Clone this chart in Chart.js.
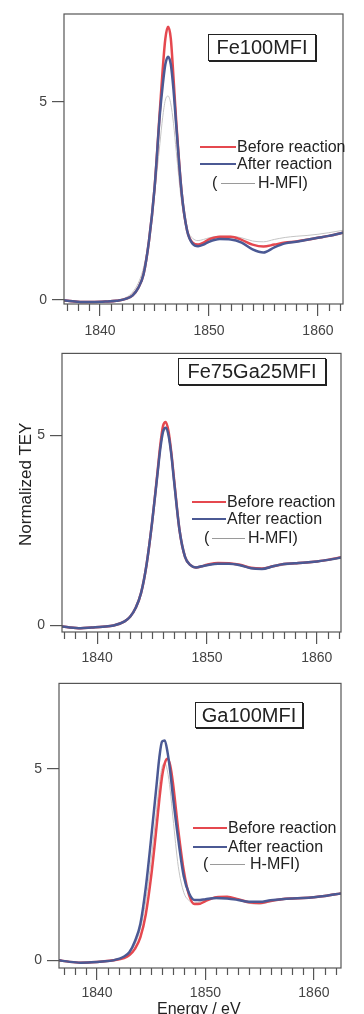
<!DOCTYPE html>
<html>
<head>
<meta charset="utf-8">
<script src="https://cdn.jsdelivr.net/npm/chart.js@4.4.1/dist/chart.umd.min.js"></script>
<style>
  html, body { margin: 0; padding: 0; background: #fff; }
  body { width: 364px; height: 1014px; position: relative; overflow: hidden;
         font-family: "Liberation Sans", Arial, sans-serif; color: #222; }
  .panel { position: absolute; left: 0; width: 364px; }
  .panel canvas { display: block; }
  .tag { position: absolute; border: 1px solid #222; box-shadow: 1px 1px 0 #222;
         font-size: 20px; text-align: center; background: #fff; box-sizing: border-box; }
  .row { position: absolute; height: 20px; line-height: 20px; font-size: 16px; white-space: nowrap; }
  .swatch { position: absolute; height: 2px; }
  .ytitle { position: absolute; font-size: 17px; white-space: nowrap; transform: rotate(-90deg);
            transform-origin: center center; }
  .xtitle { position: absolute; font-size: 16px; white-space: nowrap; }
</style>
</head>
<body>

<div class="panel" style="top:0;height:340px"><canvas id="chart1" width="364" height="340"></canvas></div>
<div class="panel" style="top:340px;height:330px"><canvas id="chart2" width="364" height="330"></canvas></div>
<div class="panel" style="top:670px;height:344px"><canvas id="chart3" width="364" height="344"></canvas></div>

<!-- sample names -->
<div class="tag" style="left:208px;top:34px;width:108px;height:27px;line-height:25px">Fe100MFI</div>
<div class="tag" style="left:178px;top:358px;width:148px;height:27px;line-height:25px">Fe75Ga25MFI</div>
<div class="tag" style="left:195px;top:702px;width:108px;height:26px;line-height:24px">Ga100MFI</div>

<!-- legends -->
<div class="swatch" style="left:200px;top:146px;width:36px;background:#e5484f"></div>
<div class="row" style="left:237px;top:137px">Before reaction</div>
<div class="swatch" style="left:200px;top:163px;width:36px;background:#4b5994"></div>
<div class="row" style="left:237px;top:154px">After reaction</div>
<div class="row" style="left:212px;top:173px">(</div>
<div class="swatch" style="left:221px;top:183px;width:34px;height:1px;background:#9a9a9a"></div>
<div class="row" style="left:258px;top:173px">H-MFI)</div>

<div class="swatch" style="left:192px;top:501px;width:34px;background:#e5484f"></div>
<div class="row" style="left:227px;top:492px">Before reaction</div>
<div class="swatch" style="left:192px;top:518px;width:34px;background:#4b5994"></div>
<div class="row" style="left:227px;top:509px">After reaction</div>
<div class="row" style="left:204px;top:528px">(</div>
<div class="swatch" style="left:212px;top:538px;width:33px;height:1px;background:#9a9a9a"></div>
<div class="row" style="left:248px;top:528px">H-MFI)</div>

<div class="swatch" style="left:193px;top:827px;width:34px;background:#e5484f"></div>
<div class="row" style="left:228px;top:818px">Before reaction</div>
<div class="swatch" style="left:193px;top:846px;width:34px;background:#4b5994"></div>
<div class="row" style="left:228px;top:837px">After reaction</div>
<div class="row" style="left:203px;top:854px">(</div>
<div class="swatch" style="left:210px;top:864px;width:35px;height:1px;background:#9a9a9a"></div>
<div class="row" style="left:250px;top:854px">H-MFI)</div>

<!-- axis titles -->
<div class="ytitle" style="left:-34px;top:476px;width:120px;height:20px;line-height:20px;text-align:center">Normalized TEY</div>
<div class="xtitle" style="left:157px;top:1000px;line-height:18px">Energy / eV</div>

<script>
"use strict"

// photon energy (eV), shared by every spectrum
const energy = [1836.5, 1837.5, 1838.5, 1839.5, 1840.5, 1841.5, 1842.5, 1843, 1843.5, 1844,
  1844.5, 1845, 1845.5, 1845.75, 1846, 1846.25, 1846.5, 1846.75, 1847, 1847.5,
  1848, 1848.5, 1849, 1849.5, 1850, 1851, 1852, 1853, 1854, 1855,
  1856, 1857, 1858, 1859, 1860, 1861, 1862.5];

// Fe100MFI
const fe100Before = [0.0, -0.03, -0.05, -0.05, -0.04, -0.02, 0.04, 0.12, 0.3, 0.65,
  1.5, 2.8, 4.8, 5.8, 6.6, 6.9, 6.6, 5.6, 4.5, 2.7,
  1.75, 1.45, 1.4, 1.45, 1.53, 1.6, 1.6, 1.52, 1.4, 1.35,
  1.4, 1.45, 1.48, 1.52, 1.57, 1.62, 1.71];
const fe100After = [0.0, -0.03, -0.05, -0.05, -0.04, -0.02, 0.04, 0.12, 0.3, 0.65,
  1.5, 2.8, 4.7, 5.4, 5.95, 6.14, 5.95, 5.3, 4.4, 2.7,
  1.75, 1.42, 1.36, 1.4, 1.47, 1.54, 1.53, 1.45, 1.28, 1.2,
  1.33, 1.43, 1.47, 1.52, 1.57, 1.62, 1.71];

// Fe75Ga25MFI
const fe75Before = [-0.02, -0.06, -0.08, -0.06, -0.04, -0.01, 0.1, 0.22, 0.45, 0.85,
  1.6, 2.7, 4.05, 4.75, 5.25, 5.35, 5.1, 4.55, 3.85, 2.5,
  1.8, 1.58, 1.52, 1.55, 1.59, 1.64, 1.63, 1.59, 1.51, 1.49,
  1.55, 1.61, 1.63, 1.65, 1.68, 1.72, 1.81];
const fe75After = [-0.02, -0.06, -0.08, -0.06, -0.04, -0.01, 0.1, 0.22, 0.45, 0.85,
  1.6, 2.7, 4.0, 4.65, 5.1, 5.2, 5.0, 4.5, 3.8, 2.5,
  1.8, 1.58, 1.52, 1.55, 1.58, 1.62, 1.62, 1.58, 1.5, 1.48,
  1.55, 1.61, 1.63, 1.65, 1.68, 1.72, 1.8];

// Ga100MFI
const ga100Before = [0.0, -0.04, -0.06, -0.05, -0.03, 0.0, 0.06, 0.14, 0.3, 0.6,
  1.2, 2.2, 3.5, 4.2, 4.8, 5.15, 5.27, 5.1, 4.65, 3.4,
  2.35, 1.7, 1.47, 1.48, 1.55, 1.65, 1.66, 1.6, 1.52, 1.5,
  1.55, 1.6, 1.62, 1.63, 1.65, 1.68, 1.75];
const ga100After = [0.0, -0.04, -0.06, -0.05, -0.03, 0.0, 0.1, 0.22, 0.5, 0.95,
  1.9, 3.2, 4.6, 5.3, 5.72, 5.75, 5.45, 4.95, 4.3, 3.15,
  2.2, 1.75, 1.58, 1.58, 1.6, 1.63, 1.62, 1.58, 1.53, 1.53,
  1.57, 1.6, 1.62, 1.63, 1.65, 1.68, 1.75];

// H-MFI reference (thin grey line)
const hmfiTey = [-0.02, -0.05, -0.07, -0.06, -0.04, -0.01, 0.08, 0.2, 0.42, 0.82,
  1.55, 2.65, 3.95, 4.6, 5.05, 5.15, 4.95, 4.45, 3.75, 2.45,
  1.78, 1.56, 1.5, 1.53, 1.57, 1.61, 1.61, 1.57, 1.49, 1.47,
  1.53, 1.58, 1.61, 1.63, 1.66, 1.7, 1.77];

const xTicks = [1840, 1850, 1860];
const yTicks = [0, 5];

const FONT = "'Liberation Sans', Arial, sans-serif";

window.onload = init;

function init() {
  // box = chart area inside each canvas: left, right, top, bottom (px)
  drawPanel("chart1", fe100Before, fe100After, { xMin: 1836.7, xMax: 1862.3, yMin: -0.1, yMax: 7.22, box: [64, 343, 14, 304], pad: 7 });
  drawPanel("chart2", fe75Before, fe75After, { xMin: 1836.8, xMax: 1862.2, yMin: -0.18, yMax: 7.16, box: [62, 341, 3, 292], pad: 6 });
  drawPanel("chart3", ga100Before, ga100After, { xMin: 1836.5, xMax: 1862.5, yMin: -0.2, yMax: 7.24, box: [59, 341, 6, 298], pad: 5 });
}

function toPoints(values) {
  return energy.map((e, i) => ({ x: e, y: values[i] }));
}

// box around the plot + the small 1 eV ticks under it
const frame = {
  id: "frame",
  afterDraw(chart) {
    const { ctx, chartArea: a, scales: { x } } = chart;
    ctx.save();
    ctx.strokeStyle = "#555";
    ctx.lineWidth = 1.2;
    ctx.strokeRect(a.left, a.top, a.right - a.left, a.bottom - a.top);
    ctx.beginPath();
    for (let e = Math.ceil(x.min); e <= x.max; e++) {
      if (xTicks.includes(e)) continue;
      const px = Math.round(x.getPixelForValue(e)) + 0.5;
      ctx.moveTo(px, a.bottom);
      ctx.lineTo(px, a.bottom + 7);
    }
    ctx.stroke();
    ctx.restore();
  }
};

function drawPanel(id, before, after, p) {
  const canvas = document.getElementById(id);
  const [left, right, top, bottom] = p.box;

  new Chart(canvas, {
    type: "line",
    data: {
      datasets: [
        { label: "H-MFI", data: toPoints(hmfiTey), borderColor: "#c4c4c4", borderWidth: 1, order: 3 },
        { label: "Before reaction", data: toPoints(before), borderColor: "#e5484f", borderWidth: 2.5, order: 2 },
        { label: "After reaction", data: toPoints(after), borderColor: "#4b5994", borderWidth: 2.5, order: 1 }
      ]
    },
    options: {
      responsive: false,
      animation: false,
      layout: { padding: { left: 0, right: canvas.width - right, top: top, bottom: 0 } },
      elements: {
        point: { radius: 0 },
        line: { cubicInterpolationMode: "monotone" }
      },
      plugins: { legend: { display: false }, tooltip: { enabled: false } },
      scales: {
        x: {
          type: "linear",
          min: p.xMin,
          max: p.xMax,
          afterFit: s => { s.height = canvas.height - bottom; },
          afterBuildTicks: s => { s.ticks = xTicks.map(v => ({ value: v })); },
          border: { display: false },
          grid: { drawOnChartArea: false, tickLength: 12, color: "#555", lineWidth: 1.2 },
          ticks: { padding: p.pad, color: "#444", maxRotation: 0, font: { family: FONT, size: 14 }, callback: v => String(v) }
        },
        y: {
          min: p.yMin,
          max: p.yMax,
          afterFit: s => { s.width = left; },
          afterBuildTicks: s => { s.ticks = yTicks.map(v => ({ value: v })); },
          border: { display: false },
          grid: { drawOnChartArea: false, tickLength: 12, color: "#555", lineWidth: 1.2 },
          ticks: { padding: 5, color: "#444", font: { family: FONT, size: 14 }, callback: v => String(v) }
        }
      }
    },
    plugins: [frame]
  });
}
</script>
</body>
</html>
